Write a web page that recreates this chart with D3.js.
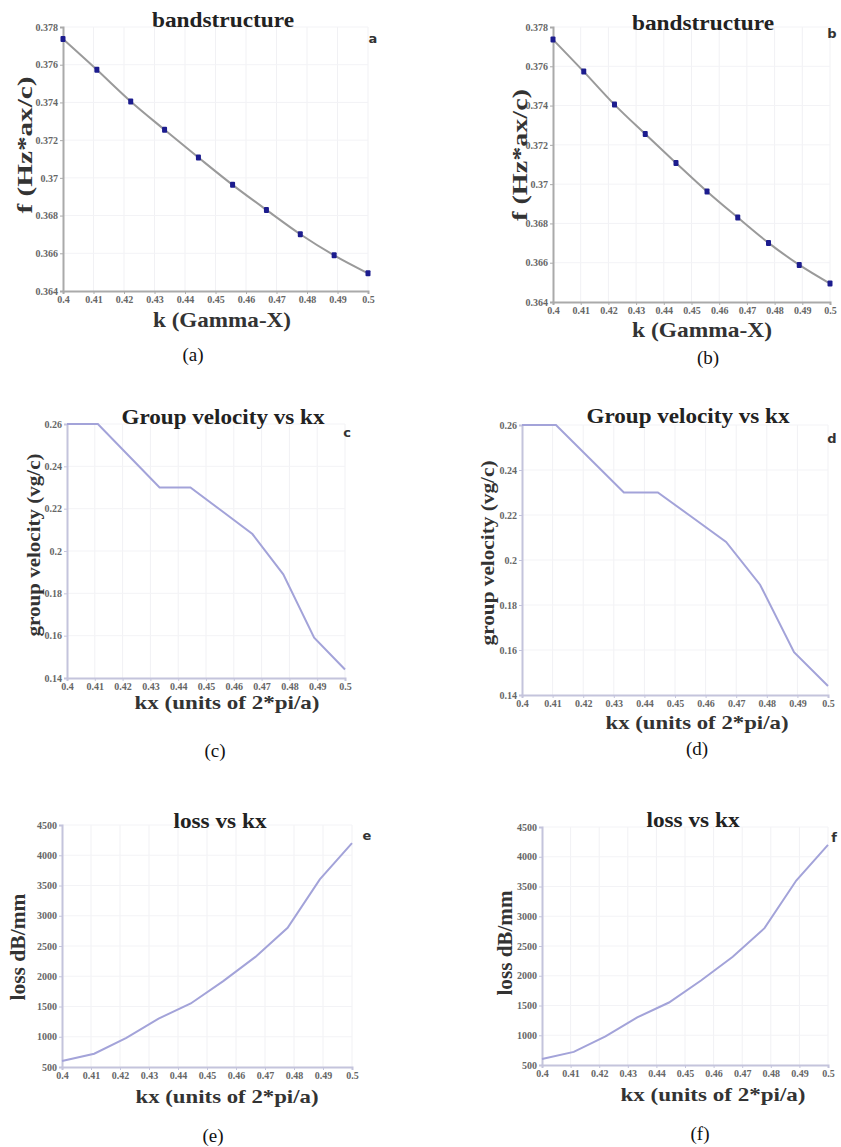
<!DOCTYPE html>
<html>
<head>
<meta charset="utf-8">
<script src="https://cdn.jsdelivr.net/npm/d3@7"></script>
<style>
    body { margin: 0; background: #fff; }
    svg text { font-family: "Liberation Serif", "DejaVu Serif", serif; }
    .tick text { font-family: "Liberation Serif", serif; font-size: 10px; font-weight: bold; fill: #666; }
    .ptitle { font-size: 20px; font-weight: bold; fill: #222; }
    .atitle { font-weight: bold; fill: #333; }
    .caption { font-size: 19px; fill: #111; }
</style>
</head>
<body>
<svg id="fig" width="841" height="1147"></svg>
<script>
// wave vector samples along Gamma-X (units of 2*pi/a)
const kx = [0.4, 0.4111, 0.4222, 0.4333, 0.4444, 0.4556, 0.4667, 0.4778, 0.4889, 0.5];

// normalized frequency f (Hz*a/c)
const freq = [0.37736, 0.37573, 0.37405, 0.37255, 0.37108, 0.36963, 0.3683, 0.36701, 0.36589, 0.36494];

// group velocity (vg/c)
const groupVel = [0.26, 0.26, 0.245, 0.23, 0.23, 0.219, 0.208, 0.189, 0.159, 0.144];

// loss dB/mm
const loss = [600, 720, 980, 1300, 1550, 1920, 2320, 2800, 3600, 4200];

const kTicks = [0.4, 0.41, 0.42, 0.43, 0.44, 0.45, 0.46, 0.47, 0.48, 0.49, 0.5];
const freqTicks = [0.364, 0.366, 0.368, 0.37, 0.372, 0.374, 0.376, 0.378];
const velTicks = [0.14, 0.16, 0.18, 0.2, 0.22, 0.24, 0.26];
const lossTicks = [500, 1000, 1500, 2000, 2500, 3000, 3500, 4000, 4500];

const BAND_LINE = '#9a9a9a';
const BAND_POINT = '#1c1c8e';
const PURPLE = '#a3a3d9';

const fmt = d => String(+d.toFixed(3));

// text entries: [x, y, font size, stretched length] -- the scanned figure is wide-stretched
const panels = [
    { id: 'a', box: [63, 368, 27, 291], y: freq, yDom: [0.364, 0.378], yTicks: freqTicks, kind: 'band',
      title: 'bandstructure', tPos: [223, 27, 142], lPos: [373, 43],
      yTitle: 'f (Hz*ax/c)', yT: [25, 145, 21, 137], xTitle: 'k (Gamma-X)', xT: [222, 327, 21, 138], cap: [193, 361] },
    { id: 'b', box: [553, 830, 27, 302], y: freq, yDom: [0.364, 0.378], yTicks: freqTicks, kind: 'band',
      title: 'bandstructure', tPos: [703, 30, 142], lPos: [832, 38],
      yTitle: 'f (Hz*ax/c)', yT: [520, 155, 21, 132], xTitle: 'k (Gamma-X)', xT: [702, 337, 21, 140], cap: [708, 364] },
    { id: 'c', box: [67, 345, 424, 678], y: groupVel, yDom: [0.14, 0.26], yTicks: velTicks, kind: 'line',
      title: 'Group velocity vs kx', tPos: [223, 424, 203], lPos: [347, 437],
      yTitle: 'group velocity (vg/c)', yT: [33, 545, 19, 183], xTitle: 'kx (units of 2*pi/a)', xT: [227, 709, 19, 185], cap: [215, 757] },
    { id: 'd', box: [522, 828, 425, 695], y: groupVel, yDom: [0.14, 0.26], yTicks: velTicks, kind: 'line',
      title: 'Group velocity vs kx', tPos: [688, 423, 203], lPos: [832, 443],
      yTitle: 'group velocity (vg/c)', yT: [487, 553, 19, 185], xTitle: 'kx (units of 2*pi/a)', xT: [697, 729, 19, 183], cap: [697, 755] },
    { id: 'e', box: [62, 352, 825, 1067], y: loss, yDom: [500, 4500], yTicks: lossTicks, kind: 'line',
      title: 'loss vs kx', tPos: [220, 828, 93], lPos: [367, 840],
      yTitle: 'loss dB/mm', yT: [18, 947, 20, 107], xTitle: 'kx (units of 2*pi/a)', xT: [227, 1103, 19, 183], cap: [213, 1142] },
    { id: 'f', box: [542, 828, 827, 1065], y: loss, yDom: [500, 4500], yTicks: lossTicks, kind: 'line',
      title: 'loss vs kx', tPos: [693, 827, 93], lPos: [834, 842],
      yTitle: 'loss dB/mm', yT: [505, 943, 20, 105], xTitle: 'kx (units of 2*pi/a)', xT: [713, 1101, 19, 185], cap: [700, 1140] }
];

const svg = d3.select('#fig');

panels.forEach(p => {
    const [x0, x1, y0, y1] = p.box;
    const x = d3.scaleLinear().domain([0.4, 0.5]).range([x0, x1]);
    const y = d3.scaleLinear().domain(p.yDom).range([y1, y0]);
    const g = svg.append('g').attr('class', 'panel-' + p.id);
    const axisColor = p.kind === 'band' ? '#aaa' : '#c4c4dc';

    // faint grid
    g.append('g').selectAll('line')
        .data(kTicks.slice(1))
        .join('line')
        .attr('x1', d => x(d)).attr('x2', d => x(d))
        .attr('y1', y0).attr('y2', y1)
        .attr('stroke', '#f1f1f4').attr('stroke-width', 1);
    g.append('g').selectAll('line')
        .data(p.yTicks.slice(1))
        .join('line')
        .attr('x1', x0).attr('x2', x1)
        .attr('y1', d => y(d)).attr('y2', d => y(d))
        .attr('stroke', '#f3f3f6').attr('stroke-width', 1);

    const xAxis = g.append('g')
        .attr('transform', `translate(0,${y1})`)
        .call(d3.axisBottom(x).tickValues(kTicks).tickFormat(fmt).tickSize(3).tickPadding(2));
    const yAxis = g.append('g')
        .attr('transform', `translate(${x0},0)`)
        .call(d3.axisLeft(y).tickValues(p.yTicks).tickFormat(fmt).tickSize(3).tickPadding(2));
    [xAxis, yAxis].forEach(a => {
        a.attr('font-family', null);
        a.select('.domain').attr('stroke', axisColor).attr('stroke-width', 2);
        a.selectAll('.tick line').attr('stroke', axisColor);
    });

    const line = d3.line()
        .x((d, i) => x(kx[i]))
        .y(d => y(d));

    if (p.kind === 'band') {
        g.append('path')
            .datum(p.y)
            .attr('fill', 'none')
            .attr('stroke', BAND_LINE)
            .attr('stroke-width', 2)
            .attr('d', line.curve(d3.curveMonotoneX));
        g.append('g').selectAll('rect')
            .data(p.y)
            .join('rect')
            .attr('x', (d, i) => x(kx[i]) - 2.5)
            .attr('y', d => y(d) - 3)
            .attr('width', 5).attr('height', 6)
            .attr('rx', 1)
            .attr('fill', BAND_POINT);
    } else {
        g.append('path')
            .datum(p.y)
            .attr('fill', 'none')
            .attr('stroke', PURPLE)
            .attr('stroke-width', 2)
            .attr('d', line.curve(d3.curveLinear));
    }

    g.append('text').attr('class', 'ptitle')
        .attr('x', p.tPos[0]).attr('y', p.tPos[1])
        .attr('text-anchor', 'middle')
        .attr('textLength', p.tPos[2]).attr('lengthAdjust', 'spacingAndGlyphs')
        .text(p.title);
    g.append('text')
        .attr('x', p.lPos[0]).attr('y', p.lPos[1])
        .attr('text-anchor', 'middle')
        .style('font-family', '"DejaVu Sans", sans-serif')
        .style('font-size', '13px').style('font-weight', 'bold').style('fill', '#333')
        .text(p.id);
    g.append('text').attr('class', 'atitle')
        .attr('transform', `translate(${p.yT[0]},${p.yT[1]}) rotate(-90)`)
        .attr('text-anchor', 'middle').attr('dy', '0.35em')
        .attr('textLength', p.yT[3]).attr('lengthAdjust', 'spacingAndGlyphs')
        .style('font-size', p.yT[2] + 'px')
        .text(p.yTitle);
    g.append('text').attr('class', 'atitle')
        .attr('x', p.xT[0]).attr('y', p.xT[1])
        .attr('text-anchor', 'middle')
        .attr('textLength', p.xT[3]).attr('lengthAdjust', 'spacingAndGlyphs')
        .style('font-size', p.xT[2] + 'px')
        .text(p.xTitle);
    svg.append('text').attr('class', 'caption')
        .attr('x', p.cap[0]).attr('y', p.cap[1])
        .attr('text-anchor', 'middle')
        .text(`(${p.id})`);
});
</script>
</body>
</html>
